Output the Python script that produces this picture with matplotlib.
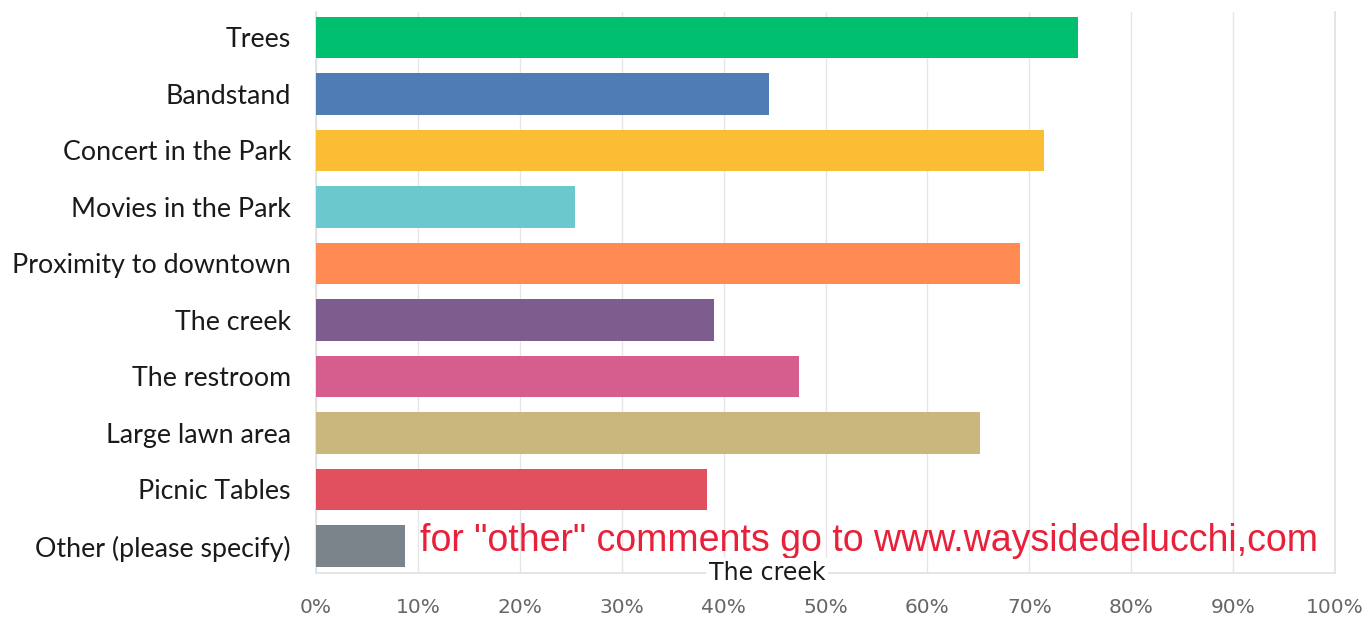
import matplotlib
matplotlib.use("Agg")
import matplotlib.pyplot as plt

categories = ["Trees", "Bandstand", "Concert in the Park", "Movies in the Park",
              "Proximity to downtown", "The creek", "The restroom",
              "Large lawn area", "Picnic Tables", "Other (please specify)"]
values = [74.8, 44.5, 71.4, 25.4, 69.1, 39.1, 47.4, 65.2, 38.4, 8.7]
colors = ["#00bf6f", "#507cb6", "#fbbd33", "#6bc8cd", "#ff8b52",
          "#7d5d8e", "#d65e8f", "#c9b77d", "#e0505f", "#7b848b"]
xticks = [0, 10, 20, 30, 40, 50, 60, 70, 80, 90, 100]
xticklabels = [f"{t}%" for t in xticks]

fig = plt.figure(figsize=(13.63, 6.2), dpi=100)
ax = fig.add_axes([316/1363, 1 - 573/620, (1335-316)/1363, (573-12)/620])

y = list(range(len(categories)))
ax.barh(y, values, height=0.73, color=colors, zorder=3)
ax.set_xlim(0, 100)
ax.set_ylim(9.478, -0.451)
ax.set_yticks(y)
ax.set_yticklabels(categories, fontsize=19.3, family="Lato", color="#1a1a1a")
ax.set_xticks(xticks)
ax.set_xticklabels(xticklabels, fontsize=14.5, color="#666666", family="DejaVu Sans")
ax.tick_params(axis="y", length=0, pad=18)
ax.tick_params(axis="x", length=0, pad=18)
ax.grid(axis="x", color="#e6e6e6", linewidth=1, zorder=0)
ax.spines["top"].set_visible(False)
for s in ["left", "right", "bottom"]:
    ax.spines[s].set_color("#e0e0e0")
    ax.spines[s].set_linewidth(1.2)

fig.text(420/1363, 1 - 541/620, 'for "other" comments go to www.waysidedelucchi,com',
         fontsize=27, color="#e8203a", family="Liberation Sans", va="center", ha="left")
fig.text(767/1363, 1 - 573/620, "The creek", fontsize=17, color="#1a1a1a",
         family="DejaVu Sans", va="center", ha="center",
         bbox=dict(facecolor="white", edgecolor="none", pad=2))

fig.savefig("out.png", dpi=100)
